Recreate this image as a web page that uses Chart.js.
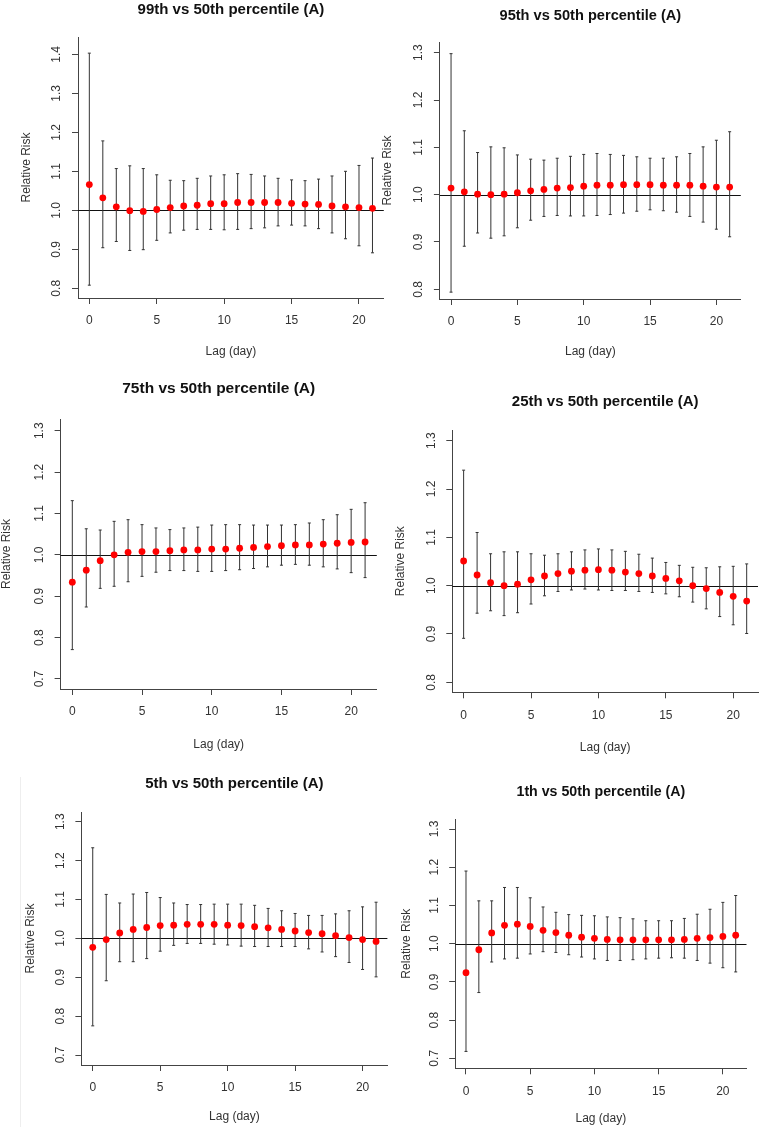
<!DOCTYPE html>
<html>
<head>
<meta charset="utf-8">
<script src="https://cdn.jsdelivr.net/npm/chart.js@4.4.1/dist/chart.umd.min.js"></script>
<style>
    html, body { margin: 0; padding: 0; background: #fff; }
    #wrap { position: relative; width: 762px; height: 1127px; overflow: hidden; }
    #wrap canvas { position: absolute; }
    .frame { position: absolute; left: 20px; top: 777px; width: 1px; height: 350px; background: #eeeeee; }
</style>
</head>
<body>
<div id="wrap"><div class="frame"></div></div>
<script>
// Lag days (x axis)
const lags = [0, 1, 2, 3, 4, 5, 6, 7, 8, 9, 10, 11, 12, 13, 14, 15, 16, 17, 18, 19, 20, 21];
const xTicks = [0, 5, 10, 15, 20];

// 99th vs 50th
const rr99 = [1.066, 1.032, 1.009, 0.999, 0.997, 1.002, 1.007, 1.011, 1.013, 1.017, 1.017, 1.020, 1.020, 1.020, 1.020, 1.018, 1.016, 1.015, 1.011, 1.009, 1.007, 1.005];
const lo99 = [0.808, 0.904, 0.920, 0.897, 0.899, 0.923, 0.942, 0.949, 0.951, 0.951, 0.950, 0.951, 0.953, 0.955, 0.960, 0.962, 0.960, 0.953, 0.942, 0.927, 0.909, 0.891];
const hi99 = [1.403, 1.178, 1.107, 1.114, 1.107, 1.091, 1.077, 1.076, 1.082, 1.088, 1.091, 1.094, 1.092, 1.088, 1.082, 1.078, 1.076, 1.080, 1.088, 1.100, 1.115, 1.134];
const yTicks99 = [0.8, 0.9, 1.0, 1.1, 1.2, 1.3, 1.4];

// 95th vs 50th
const rr95 = [1.014, 1.006, 1.001, 1.000, 1.001, 1.004, 1.008, 1.011, 1.014, 1.015, 1.018, 1.020, 1.020, 1.021, 1.021, 1.021, 1.020, 1.020, 1.020, 1.018, 1.016, 1.016];
const lo95 = [0.794, 0.891, 0.919, 0.908, 0.913, 0.930, 0.946, 0.954, 0.956, 0.955, 0.955, 0.956, 0.958, 0.961, 0.965, 0.968, 0.966, 0.963, 0.954, 0.942, 0.927, 0.911];
const hi95 = [1.298, 1.135, 1.089, 1.101, 1.099, 1.084, 1.075, 1.073, 1.077, 1.081, 1.085, 1.087, 1.085, 1.083, 1.080, 1.077, 1.077, 1.080, 1.087, 1.101, 1.115, 1.133];
const yTicks95 = [0.8, 0.9, 1.0, 1.1, 1.2, 1.3];

// 75th vs 50th
const rr75 = [0.934, 0.963, 0.986, 1.000, 1.006, 1.008, 1.008, 1.010, 1.012, 1.012, 1.014, 1.014, 1.016, 1.018, 1.020, 1.022, 1.024, 1.024, 1.026, 1.028, 1.030, 1.031];
const lo75 = [0.771, 0.874, 0.919, 0.924, 0.935, 0.948, 0.958, 0.962, 0.962, 0.960, 0.960, 0.962, 0.964, 0.967, 0.971, 0.975, 0.977, 0.975, 0.971, 0.966, 0.957, 0.945];
const hi75 = [1.131, 1.063, 1.060, 1.081, 1.085, 1.073, 1.065, 1.061, 1.065, 1.067, 1.072, 1.073, 1.073, 1.072, 1.072, 1.072, 1.073, 1.077, 1.085, 1.097, 1.110, 1.126];
const yTicks75 = [0.7, 0.8, 0.9, 1.0, 1.1, 1.2, 1.3];

// 25th vs 50th
const rr25 = [1.051, 1.022, 1.006, 1.000, 1.003, 1.012, 1.020, 1.025, 1.030, 1.032, 1.033, 1.032, 1.028, 1.025, 1.020, 1.015, 1.010, 1.000, 0.994, 0.986, 0.978, 0.968];
const lo25 = [0.891, 0.943, 0.948, 0.938, 0.944, 0.962, 0.979, 0.988, 0.991, 0.993, 0.991, 0.990, 0.990, 0.988, 0.986, 0.983, 0.977, 0.966, 0.952, 0.936, 0.919, 0.901];
const hi25 = [1.239, 1.110, 1.066, 1.070, 1.070, 1.066, 1.063, 1.066, 1.070, 1.074, 1.076, 1.074, 1.071, 1.065, 1.057, 1.048, 1.042, 1.038, 1.037, 1.039, 1.040, 1.045];
const yTicks25 = [0.8, 0.9, 1.0, 1.1, 1.2, 1.3];

// 5th vs 50th
const rr5 = [0.977, 0.997, 1.014, 1.023, 1.028, 1.033, 1.034, 1.036, 1.036, 1.036, 1.034, 1.033, 1.030, 1.027, 1.023, 1.019, 1.015, 1.012, 1.007, 1.002, 0.997, 0.992];
const lo5 = [0.775, 0.891, 0.940, 0.940, 0.948, 0.967, 0.982, 0.987, 0.987, 0.985, 0.983, 0.980, 0.979, 0.979, 0.979, 0.979, 0.973, 0.965, 0.953, 0.938, 0.920, 0.901];
const hi5 = [1.233, 1.113, 1.091, 1.114, 1.118, 1.105, 1.091, 1.087, 1.087, 1.088, 1.088, 1.088, 1.085, 1.077, 1.071, 1.064, 1.059, 1.059, 1.063, 1.071, 1.081, 1.093];
const yTicks5 = [0.7, 0.8, 0.9, 1.0, 1.1, 1.2, 1.3];

// 1th vs 50th
const rr1 = [0.924, 0.984, 1.028, 1.048, 1.051, 1.045, 1.035, 1.029, 1.022, 1.017, 1.014, 1.011, 1.010, 1.010, 1.010, 1.010, 1.010, 1.011, 1.014, 1.016, 1.019, 1.022];
const lo1 = [0.718, 0.872, 0.952, 0.960, 0.962, 0.973, 0.979, 0.977, 0.971, 0.965, 0.960, 0.956, 0.956, 0.958, 0.960, 0.962, 0.963, 0.962, 0.956, 0.949, 0.937, 0.926];
const hi1 = [1.190, 1.112, 1.112, 1.147, 1.147, 1.120, 1.096, 1.082, 1.076, 1.074, 1.073, 1.070, 1.068, 1.065, 1.060, 1.060, 1.060, 1.066, 1.077, 1.090, 1.108, 1.126];
const yTicks1 = [0.7, 0.8, 0.9, 1.0, 1.1, 1.2, 1.3];

const axisColor = '#444';
const barColor = '#333';
const textFont = '"Liberation Sans", Arial, sans-serif';

// page layout of each panel: canvas box [x, y, w, h], plot area [left, top, right, bottom]
const panels = [
    { title: '99th vs 50th percentile (A)', est: rr99, lo: lo99, hi: hi99, yTicks: yTicks99,
      box: [0, 0, 392, 370], area: [78, 37, 383.8, 298], yRange: [0.7751, 1.4444],
      titleY: 10, titleSize: 15, rrDx: 51, lagDy: 54 },
    { title: '95th vs 50th percentile (A)', est: rr95, lo: lo95, hi: hi95, yTicks: yTicks95,
      box: [381, 0, 381, 370], area: [439.9, 42, 740.8, 299], yRange: [0.7795, 1.3226],
      titleY: 15.5, titleSize: 14.6, rrDx: 52, lagDy: 53 },
    { title: '75th vs 50th percentile (A)', est: rr75, lo: lo75, hi: hi75, yTicks: yTicks75,
      box: [0, 370, 392, 390], area: [60.6, 419, 376.8, 689], yRange: [0.6758, 1.3283],
      titleY: 389, titleSize: 15.5, rrDx: 54, lagDy: 56 },
    { title: '25th vs 50th percentile (A)', est: rr25, lo: lo25, hi: hi25, yTicks: yTicks25,
      box: [381, 370, 381, 390], area: [452.3, 430, 760.1, 692.3], yRange: [0.7793, 1.3221],
      titleY: 402, titleSize: 15, rrDx: 52, lagDy: 55 },
    { title: '5th vs 50th percentile (A)', est: rr5, lo: lo5, hi: hi5, yTicks: yTicks5,
      box: [0, 760, 392, 367], area: [81.4, 812, 387.4, 1065], yRange: [0.6743, 1.325],
      titleY: 784, titleSize: 15, rrDx: 51, lagDy: 52 },
    { title: '1th vs 50th percentile (A)', est: rr1, lo: lo1, hi: hi1, yTicks: yTicks1,
      box: [381, 760, 381, 367], area: [455.2, 819, 746.5, 1068.3], yRange: [0.6738, 1.3262],
      titleY: 792, titleSize: 14.2, rrDx: 49, lagDy: 50 }
];

// horizontal reference line at RR = 1
const refLine = {
    id: 'refLine',
    beforeDatasetsDraw(chart) {
        const ctx = chart.ctx;
        const area = chart.chartArea;
        const y = Math.round(chart.scales.y.getPixelForValue(1.0)) + 0.5;
        ctx.save();
        ctx.strokeStyle = '#111';
        ctx.lineWidth = 1;
        ctx.beginPath();
        ctx.moveTo(area.left, y);
        ctx.lineTo(area.right, y);
        ctx.stroke();
        ctx.restore();
    }
};

// small caps on the error bars
const errCaps = {
    id: 'errCaps',
    afterDatasetsDraw(chart) {
        const ctx = chart.ctx;
        const meta = chart.getDatasetMeta(1);
        ctx.save();
        ctx.strokeStyle = barColor;
        ctx.lineWidth = 1;
        meta.data.forEach(el => {
            const { x, y, base } = el.getProps(['x', 'y', 'base'], true);
            [y, base].forEach(v => {
                ctx.beginPath();
                ctx.moveTo(x - 1.5, v);
                ctx.lineTo(x + 1.5, v);
                ctx.stroke();
            });
        });
        ctx.restore();
    }
};

function textPlugin(p) {
    return {
        id: 'panelText',
        afterDraw(chart) {
            const ctx = chart.ctx;
            const area = chart.chartArea;
            const xs = chart.scales.x;
            const ys = chart.scales.y;
            const midX = (area.left + area.right) / 2;
            const midY = (area.top + area.bottom) / 2;
            ctx.save();
            // title
            ctx.fillStyle = '#111';
            ctx.font = 'bold ' + p.titleSize + 'px ' + textFont;
            ctx.textAlign = 'center';
            ctx.textBaseline = 'middle';
            ctx.fillText(p.title, midX, p.titleY - p.box[1]);

            ctx.fillStyle = '#333';
            ctx.font = '12px ' + textFont;
            // x tick labels
            xs.ticks.forEach(t => {
                ctx.fillText(String(t.value), xs.getPixelForValue(t.value), area.bottom + 23);
            });
            // x axis title
            ctx.fillText('Lag (day)', midX, area.bottom + p.lagDy);
            // y tick labels (rotated like R)
            ys.ticks.forEach(t => {
                ctx.save();
                ctx.translate(area.left - 21, ys.getPixelForValue(t.value));
                ctx.rotate(-Math.PI / 2);
                ctx.fillText(t.value.toFixed(1), 0, 0);
                ctx.restore();
            });
            // y axis title
            ctx.save();
            ctx.translate(area.left - p.rrDx, midY);
            ctx.rotate(-Math.PI / 2);
            ctx.fillText('Relative Risk', 0, 0);
            ctx.restore();
            ctx.restore();
        }
    };
}

function drawPanel(p) {
    const [x0, y0, w, h] = p.box;
    const L = p.area[0] - x0, T = p.area[1] - y0, R = p.area[2] - x0, B = p.area[3] - y0;
    const canvas = document.createElement('canvas');
    canvas.width = w;
    canvas.height = h;
    canvas.style.left = x0 + 'px';
    canvas.style.top = y0 + 'px';
    canvas.style.width = w + 'px';
    canvas.style.height = h + 'px';
    document.getElementById('wrap').appendChild(canvas);

    new Chart(canvas, {
        type: 'scatter',
        data: {
            datasets: [
                {
                    type: 'scatter',
                    data: lags.map((d, i) => ({ x: d, y: p.est[i] })),
                    backgroundColor: '#ff0000',
                    borderWidth: 0,
                    pointRadius: 3.4,
                    order: 0
                },
                {
                    type: 'bar',
                    data: lags.map((d, i) => ({ x: d, y: [p.lo[i], p.hi[i]] })),
                    backgroundColor: barColor,
                    barThickness: 1,
                    inflateAmount: 0,
                    grouped: false,
                    order: 1
                }
            ]
        },
        options: {
            responsive: false,
            animation: false,
            devicePixelRatio: 1,
            layout: { padding: { left: 0, top: T, right: w - R, bottom: 0 } },
            plugins: { legend: { display: false }, tooltip: { enabled: false } },
            scales: {
                x: {
                    type: 'linear',
                    min: -0.84,
                    max: 21.84,
                    offset: false,
                    afterFit: s => { s.height = h - B; },
                    afterBuildTicks: s => { s.ticks = xTicks.map(v => ({ value: v })); },
                    ticks: { display: false },
                    grid: { offset: false, drawOnChartArea: false, drawTicks: true, tickLength: 6, color: axisColor },
                    border: { display: true, color: axisColor, width: 1 }
                },
                y: {
                    type: 'linear',
                    min: p.yRange[0],
                    max: p.yRange[1],
                    afterFit: s => { s.width = L; },
                    afterBuildTicks: s => { s.ticks = p.yTicks.map(v => ({ value: v })); },
                    ticks: { display: false },
                    grid: { drawOnChartArea: false, drawTicks: true, tickLength: 6, color: axisColor },
                    border: { display: true, color: axisColor, width: 1 }
                }
            }
        },
        plugins: [refLine, errCaps, textPlugin(p)]
    });
}

panels.forEach(drawPanel);
</script>
</body>
</html>
